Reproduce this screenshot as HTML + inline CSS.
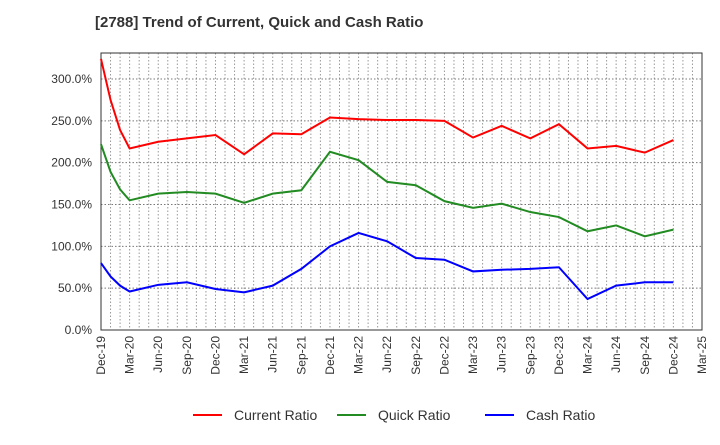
<!DOCTYPE html>
<html><head><meta charset="utf-8"><style>
body{margin:0;background:#fff;font-family:"Liberation Sans",Arial,sans-serif}
</style></head><body>
<svg width="720" height="440" xmlns="http://www.w3.org/2000/svg" font-family="Liberation Sans, Arial, sans-serif">
<text x="95" y="27" font-size="15" font-weight="bold" fill="#333">[2788]  Trend of Current, Quick and Cash Ratio</text>
<g id="grid"></g>
<g id="axes"></g>
<g id="series"></g>
<g id="legend"></g>
</svg>
<script>
const months = [0,1,2,3,6,9,12,15,18,21,24,27,30,33,36,39,42,45,48,51,54,57,60];
const currentRatio = [324,275,239,217,225,229,233,210,235,234,254,252,251,251,250,230,244,229,246,217,220,212,227];
const quickRatio = [222,189,168,155,163,165,163,152,163,167,213,203,177,173,154,146,151,141,135,118,125,112,120];
const cashRatio = [80,64,53,46,54,57,49,45,53,73,100,116,106,86,84,70,72,73,75,37,53,57,57];
const yTicks = [0,50,100,150,200,250,300];
const xTickLabels = ["Dec-19","Mar-20","Jun-20","Sep-20","Dec-20","Mar-21","Jun-21","Sep-21","Dec-21","Mar-22","Jun-22","Sep-22","Dec-22","Mar-23","Jun-23","Sep-23","Dec-23","Mar-24","Jun-24","Sep-24","Dec-24","Mar-25"];
const L=101,R=702,T=53,B=330,totalMonths=63;
const ns="http://www.w3.org/2000/svg";
function xs(m){return L+(R-L)*m/totalMonths;}
function ys(v){return B-v*(B-79)/300;}
function mk(t,a,p){const e=document.createElementNS(ns,t);for(const k in a)e.setAttribute(k,a[k]);p.appendChild(e);return e;}
const grid=document.getElementById('grid'),axes=document.getElementById('axes'),series=document.getElementById('series'),legend=document.getElementById('legend');
for(let m=1;m<totalMonths;m++){
 const l=mk('line',{x1:xs(m),x2:xs(m),y1:T,y2:B,stroke:'#999','stroke-dasharray':'1.5,2','stroke-width':1},grid);
 
 
}
yTicks.forEach(v=>{
 if(v>0){const l=mk('line',{x1:L,x2:R,y1:ys(v),y2:ys(v),stroke:'#777','stroke-dasharray':'1.5,2','stroke-width':1},grid);
 
 }
 const t=mk('text',{x:92,y:ys(v)+4,'text-anchor':'end','font-size':12,fill:'#333'},axes);
 t.textContent=v.toFixed(1)+'%';
 
 
});
mk('rect',{x:L,y:T,width:R-L,height:B-T,fill:'none',stroke:'#333','stroke-width':1},axes);
xTickLabels.forEach((s,i)=>{
 const x=xs(i*3);
 const t=mk('text',{transform:`translate(${x+4},336) rotate(-90)`,'text-anchor':'end','font-size':12,fill:'#333'},axes);
 t.textContent=s;
 
 
});
const defs=[[currentRatio,'#ff0000','Current Ratio',193],[quickRatio,'#228b22','Quick Ratio',337],[cashRatio,'#0000ff','Cash Ratio',485]];
defs.forEach(([d,c,n,lx])=>{
 const p=mk('polyline',{points:d.map((v,i)=>xs(months[i])+','+ys(v)).join(' '),fill:'none',stroke:c,'stroke-width':2},series);
 
 
 const ll=mk('line',{x1:lx,x2:lx+29,y1:415,y2:415,stroke:c,'stroke-width':2},legend);
 
 
 const t=mk('text',{x:lx+41,y:420,'font-size':14,fill:'#333'},legend);
 t.textContent=n;
 
 
});
</script>
</body></html>
